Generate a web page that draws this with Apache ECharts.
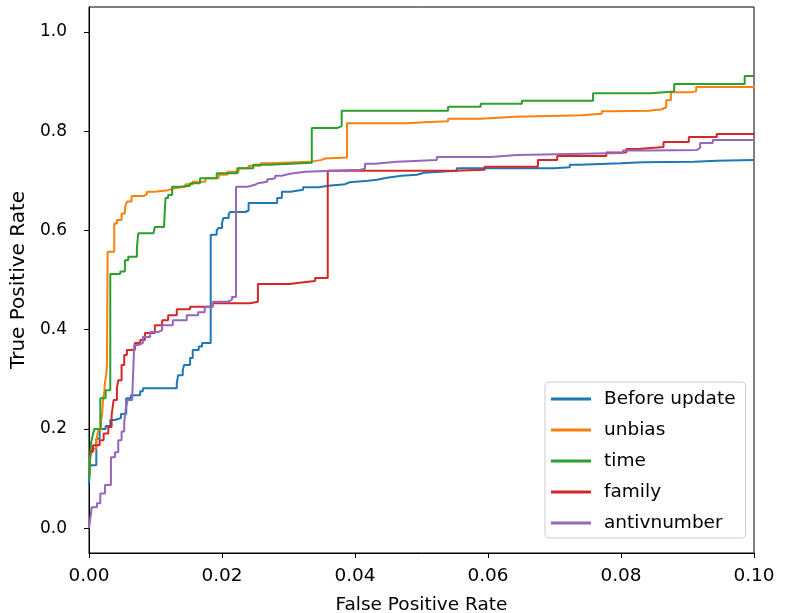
<!DOCTYPE html>
<html>
<head>
<meta charset="utf-8">
<script src="https://cdn.jsdelivr.net/npm/echarts@6/dist/echarts.min.js"></script>
<style>
html,body{margin:0;padding:0;background:#fff;}
#chart{width:788px;height:613px;}
</style>
</head>
<body>
<div id="chart"></div>
<script>
var seriesNames = ['Before update', 'unbias', 'time', 'family', 'antivnumber'];
var xTicks = [0, 0.02, 0.04, 0.06, 0.08, 0.10];
var yTicks = [0, 0.2, 0.4, 0.6, 0.8, 1.0];

var beforeFpr = [0, 0.0002, 0.0011, 0.0016, 0.0025, 0.0032, 0.0039, 0.0048, 0.0056, 0.0063, 0.0077, 0.0081, 0.0132, 0.0134, 0.0141, 0.0143, 0.0152, 0.0156, 0.0165, 0.0170, 0.0183, 0.0192, 0.0195, 0.0200, 0.0202, 0.0210, 0.0212, 0.0235, 0.0240, 0.0283, 0.0290, 0.0303, 0.0322, 0.0345, 0.0360, 0.0385, 0.0392, 0.0420, 0.0433, 0.0448, 0.0470, 0.0493, 0.0504, 0.0553, 0.0700, 0.0723, 0.0738, 0.0800, 0.0832, 0.0910, 0.0944, 0.1];
var beforeTpr = [0.09, 0.127, 0.18, 0.20, 0.206, 0.218, 0.222, 0.23, 0.262, 0.268, 0.276, 0.282, 0.292, 0.308, 0.318, 0.329, 0.343, 0.359, 0.366, 0.373, 0.591, 0.600, 0.605, 0.615, 0.625, 0.632, 0.637, 0.640, 0.655, 0.665, 0.678, 0.682, 0.687, 0.690, 0.693, 0.697, 0.700, 0.702, 0.706, 0.710, 0.712, 0.716, 0.720, 0.725, 0.727, 0.732, 0.735, 0.737, 0.738, 0.740, 0.742, 0.742];

var unbiasFpr = [0, 0.0002, 0.0005, 0.0011, 0.0014, 0.0018, 0.0020, 0.0021, 0.0023, 0.0024, 0.0026, 0.0027, 0.0028, 0.0038, 0.0042, 0.0049, 0.0054, 0.0057, 0.0064, 0.0082, 0.0087, 0.0099, 0.0119, 0.0129, 0.0145, 0.0156, 0.0175, 0.0195, 0.0208, 0.0225, 0.0240, 0.0258, 0.0272, 0.0332, 0.0350, 0.0355, 0.0388, 0.0478, 0.0504, 0.0540, 0.0589, 0.0641, 0.0741, 0.0771, 0.0788, 0.0842, 0.0862, 0.0868, 0.0875, 0.0905, 0.0913, 0.1];
var unbiasTpr = [0.10, 0.143, 0.16, 0.177, 0.198, 0.215, 0.232, 0.258, 0.275, 0.294, 0.31, 0.333, 0.557, 0.614, 0.621, 0.634, 0.645, 0.658, 0.669, 0.673, 0.678, 0.681, 0.685, 0.688, 0.693, 0.698, 0.705, 0.712, 0.718, 0.725, 0.730, 0.735, 0.738, 0.742, 0.745, 0.747, 0.816, 0.818, 0.820, 0.825, 0.829, 0.832, 0.835, 0.840, 0.841, 0.844, 0.848, 0.862, 0.878, 0.880, 0.889, 0.892];

var timeFpr = [0, 0.0003, 0.0006, 0.0008, 0.0017, 0.0025, 0.0032, 0.0047, 0.0054, 0.0059, 0.0072, 0.0074, 0.0097, 0.0099, 0.0113, 0.0115, 0.0119, 0.0125, 0.0137, 0.0152, 0.0167, 0.0192, 0.0223, 0.0247, 0.0272, 0.0335, 0.0373, 0.0380, 0.0540, 0.0589, 0.0651, 0.0758, 0.0844, 0.0880, 0.0986, 0.1];
var timeTpr = [0.10, 0.171, 0.19, 0.20, 0.262, 0.278, 0.512, 0.517, 0.540, 0.547, 0.564, 0.594, 0.598, 0.607, 0.613, 0.665, 0.671, 0.688, 0.690, 0.695, 0.705, 0.715, 0.725, 0.732, 0.736, 0.806, 0.810, 0.841, 0.849, 0.855, 0.861, 0.876, 0.880, 0.895, 0.911, 0.911];

var familyFpr = [0, 0.0006, 0.0016, 0.0022, 0.0029, 0.0034, 0.0037, 0.0042, 0.0044, 0.0049, 0.0053, 0.0057, 0.0069, 0.0077, 0.0084, 0.0099, 0.0110, 0.0119, 0.0132, 0.0152, 0.0186, 0.0242, 0.0254, 0.0302, 0.0313, 0.0340, 0.0359, 0.0549, 0.0595, 0.0675, 0.0704, 0.0778, 0.0808, 0.0826, 0.0864, 0.0902, 0.0944, 0.1];
var familyTpr = [0.154, 0.167, 0.177, 0.191, 0.204, 0.228, 0.258, 0.282, 0.298, 0.329, 0.349, 0.359, 0.373, 0.379, 0.393, 0.409, 0.419, 0.429, 0.441, 0.446, 0.453, 0.456, 0.492, 0.494, 0.498, 0.504, 0.720, 0.722, 0.728, 0.742, 0.750, 0.757, 0.764, 0.768, 0.778, 0.788, 0.794, 0.796];

var antivFpr = [0, 0.0001, 0.0003, 0.0004, 0.0012, 0.0017, 0.0024, 0.0033, 0.0039, 0.0044, 0.0049, 0.0053, 0.0055, 0.0058, 0.0065, 0.0068, 0.0074, 0.0081, 0.0092, 0.0104, 0.0110, 0.0126, 0.0147, 0.0164, 0.0174, 0.0186, 0.0208, 0.0215, 0.0221, 0.0238, 0.0250, 0.0254, 0.0268, 0.0272, 0.0280, 0.0290, 0.0302, 0.0325, 0.0408, 0.0415, 0.0430, 0.0463, 0.0523, 0.0603, 0.0644, 0.0803, 0.0842, 0.0914, 0.0919, 0.0938, 0.1];
var antivTpr = [0.0, 0.01, 0.03, 0.042, 0.05, 0.07, 0.087, 0.143, 0.153, 0.177, 0.195, 0.214, 0.238, 0.258, 0.264, 0.369, 0.373, 0.385, 0.395, 0.399, 0.409, 0.419, 0.429, 0.435, 0.446, 0.456, 0.460, 0.466, 0.688, 0.692, 0.695, 0.698, 0.703, 0.705, 0.710, 0.714, 0.718, 0.722, 0.724, 0.734, 0.738, 0.742, 0.748, 0.752, 0.756, 0.761, 0.762, 0.766, 0.776, 0.782, 0.782];

var colors = ['#1f77b4', '#ff7f0e', '#2ca02c', '#d62728', '#9467bd'];

function zip(xs, ys) {
  var out = [];
  for (var i = 0; i < xs.length; i++) out.push([xs[i], ys[i]]);
  return out;
}
var allData = [
  zip(beforeFpr, beforeTpr),
  zip(unbiasFpr, unbiasTpr),
  zip(timeFpr, timeTpr),
  zip(familyFpr, familyTpr),
  zip(antivFpr, antivTpr)
];

var FONT = 'DejaVu Sans';
var chart = echarts.init(document.getElementById('chart'), null, {renderer: 'canvas'});
var series = seriesNames.map(function (n, i) {
  return {
    name: n,
    type: 'line',
    step: 'end',
    data: allData[i],
    showSymbol: false,
    symbol: 'none',
    lineStyle: {color: colors[i], width: 2},
    itemStyle: {color: colors[i]},
    z: 2 + i
  };
});

chart.setOption({
  animation: false,
  backgroundColor: '#fff',
  textStyle: {fontFamily: FONT},
  grid: {left: 89, right: 34, top: 7, bottom: 60, containLabel: false, outerBoundsMode: 'none',
    show: true, borderColor: '#000', borderWidth: 1, backgroundColor: 'transparent'},
  xAxis: {
    type: 'value', min: 0, max: 0.1, interval: 0.02,
    name: 'False Positive Rate', nameLocation: 'middle', nameGap: 43,
    nameTextStyle: {fontFamily: FONT, fontSize: 18.5, color: '#000'},
    axisLine: {show: true, onZero: false, lineStyle: {color: '#000', width: 1}},
    axisTick: {show: true, inside: false, length: 5, lineStyle: {color: '#000'}, customValues: xTicks},
    axisLabel: {show: true, margin: 14, fontFamily: FONT, fontSize: 18.5, color: '#000', customValues: xTicks,
      formatter: function (v) { return v.toFixed(2); }},
    splitLine: {show: false}
  },
  yAxis: {
    type: 'value', min: -0.05, max: 1.05,
    name: 'True Positive Rate', nameLocation: 'middle', nameGap: 60, nameRotate: 90,
    nameTextStyle: {fontFamily: FONT, fontSize: 20, color: '#000'},
    axisLine: {show: true, onZero: false, lineStyle: {color: '#000', width: 1}},
    axisTick: {show: true, inside: false, length: 5, lineStyle: {color: '#000'}, customValues: yTicks},
    axisLabel: {show: true, margin: 22, fontFamily: FONT, fontSize: 17, color: '#000', customValues: yTicks,
      formatter: function (v) { return v.toFixed(1); }},
    splitLine: {show: false}
  },
  legend: {
    show: true, orient: 'vertical',
    left: 545, top: 382,
    data: seriesNames.map(function (n, i) { return {name: n, icon: 'rect', itemStyle: {color: colors[i]}}; }),
    itemWidth: 40, itemHeight: 3, itemGap: 7,
    padding: [5, 10, 3, 6],
    borderColor: '#ccc', borderWidth: 1, borderRadius: 4,
    backgroundColor: 'rgba(255,255,255,0.8)',
    textStyle: {fontFamily: FONT, fontSize: 18.5, color: '#000', lineHeight: 24, padding: [0, 0, 0, 8]}
  },
  series: series
});
</script>
</body>
</html>
